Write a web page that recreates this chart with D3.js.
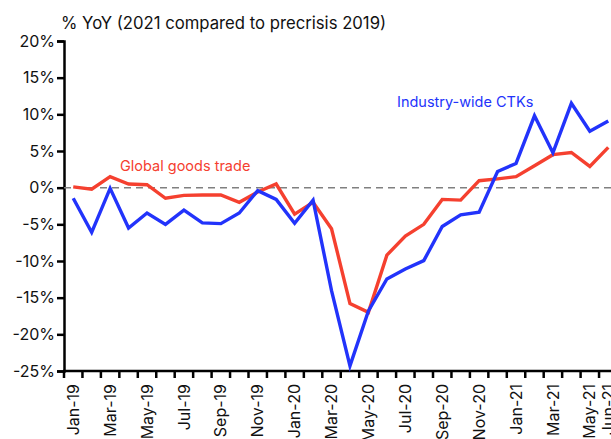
<!DOCTYPE html>
<html>
<head>
<meta charset="utf-8">
<script src="https://cdn.jsdelivr.net/npm/d3@7"></script>
<style>
  body { margin: 0; background: #fff; }
  svg { display: block; font-family: Inter, "Noto Sans", sans-serif; }
</style>
</head>
<body>
<div id="chart"></div>
<script>
var months = ["Jan-19", "Feb-19", "Mar-19", "Apr-19", "May-19", "Jun-19", "Jul-19", "Aug-19", "Sep-19", "Oct-19", "Nov-19", "Dec-19",
    "Jan-20", "Feb-20", "Mar-20", "Apr-20", "May-20", "Jun-20", "Jul-20", "Aug-20", "Sep-20", "Oct-20", "Nov-20", "Dec-20",
    "Jan-21", "Feb-21", "Mar-21", "Apr-21", "May-21", "Jun-21"];
var shownLabels = ["Jan-19", "Mar-19", "May-19", "Jul-19", "Sep-19", "Nov-19", "Jan-20", "Mar-20", "May-20", "Jul-20",
    "Sep-20", "Nov-20", "Jan-21", "Mar-21", "May-21", "Jun-21"];
var goodsTrade = [0.1, -0.2, 1.5, 0.5, 0.4, -1.45, -1.05, -1.0, -1.0, -2.0, -0.6, 0.5,
    -3.6, -2.0, -5.6, -15.8, -17.0, -9.2, -6.6, -5.0, -1.6, -1.7, 0.95, 1.2,
    1.5, 3.0, 4.5, 4.8, 2.9, 5.5];
var ctks = [-1.45, -6.1, -0.1, -5.5, -3.45, -5.0, -3.05, -4.8, -4.9, -3.45, -0.4, -1.6,
    -4.85, -1.7, -14.05, -24.3, -16.8, -12.45, -11.1, -9.95, -5.3, -3.7, -3.35, 2.2,
    3.3, 9.8, 4.75, 11.5, 7.7, 9.1];
var yTicks = [20, 15, 10, 5, 0, -5, -10, -15, -20, -25];

var width = 611, height = 439;
var red = "#f5402f", blue = "#2233fb";

var svg = d3.select("#chart").append("svg")
    .attr("width", width)
    .attr("height", height);

var x = d3.scaleBand()
    .domain(months)
    .range([64, 617.5])
    .padding(0);

var y = d3.scaleLinear()
    .domain([-25, 20])
    .range([371, 41]);

// title
svg.append("text")
    .attr("x", 61)
    .attr("y", 29)
    .style("font-size", "16.7px")
    .style("fill", "#111")
    .text("% YoY (2021 compared to precrisis 2019)");

// y axis
var yAxis = svg.append("g")
    .attr("transform", "translate(64,0)")
    .call(d3.axisLeft(y).tickValues(yTicks).tickSize(7).tickPadding(2)
        .tickFormat(function (d) { return d + "%"; }));
yAxis.select(".domain").attr("stroke", "#000").attr("stroke-width", 2.5);
yAxis.selectAll(".tick line").attr("stroke", "#000").attr("stroke-width", 2.5);
yAxis.selectAll(".tick text")
    .style("font-size", "16px")
    .style("fill", "#111")
    .style("font-family", "Inter, sans-serif");

// zero line
svg.append("line")
    .attr("x1", 64)
    .attr("x2", width)
    .attr("y1", y(0))
    .attr("y2", y(0))
    .attr("stroke", "#808080")
    .attr("stroke-width", 1.5)
    .attr("stroke-dasharray", "7,5");

// x axis: ticks on category boundaries
var xg = svg.append("g");
xg.append("line")
    .attr("x1", 63)
    .attr("x2", width)
    .attr("y1", y(-25))
    .attr("y2", y(-25))
    .attr("stroke", "#000")
    .attr("stroke-width", 2.5);
xg.selectAll(".xtick")
    .data(months.concat(["end"]))
    .enter()
    .append("line")
    .attr("x1", function (d, i) { return x.range()[0] + i * x.step(); })
    .attr("x2", function (d, i) { return x.range()[0] + i * x.step(); })
    .attr("y1", y(-25))
    .attr("y2", y(-25) + 7)
    .attr("stroke", "#000")
    .attr("stroke-width", 2.5);
xg.selectAll(".xlabel")
    .data(shownLabels)
    .enter()
    .append("text")
    .attr("transform", function (d) {
        return "translate(" + (x(d) + x.bandwidth() / 2) + "," + (y(-25) + 13) + ") rotate(-90)";
    })
    .attr("dy", "0.35em")
    .style("text-anchor", "end")
    .style("font-size", "16px")
    .style("fill", "#111")
    .text(function (d) { return d; });

// lines
var line = d3.line()
    .x(function (d, i) { return x(months[i]) + x.bandwidth() / 2; })
    .y(function (d) { return y(d); });

svg.append("path")
    .datum(goodsTrade)
    .attr("d", line)
    .attr("fill", "none")
    .attr("stroke", red)
    .attr("stroke-width", 3.4)
    .attr("stroke-linejoin", "miter");

svg.append("path")
    .datum(ctks)
    .attr("d", line)
    .attr("fill", "none")
    .attr("stroke", blue)
    .attr("stroke-width", 3.4)
    .attr("stroke-linejoin", "miter");

// series labels
svg.append("text")
    .attr("x", 120)
    .attr("y", 171)
    .style("font-size", "14.5px")
    .style("fill", red)
    .text("Global goods trade");

svg.append("text")
    .attr("x", 397)
    .attr("y", 107)
    .style("font-size", "14.5px")
    .style("fill", blue)
    .text("Industry-wide CTKs");
</script>
</body>
</html>
